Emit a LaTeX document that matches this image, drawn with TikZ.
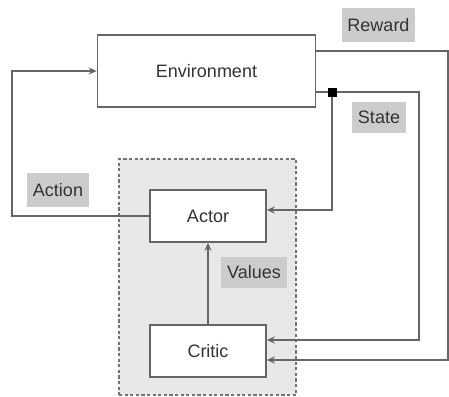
\documentclass[tikz,border=0pt]{standalone}
\usepackage{fontspec}
\setmainfont{Liberation Sans}
\usetikzlibrary{arrows.meta,positioning}

\begin{document}
\begin{tikzpicture}[x=0.5pt, y=-0.5pt, >={Stealth[length=4pt,width=3.5pt]},
  line/.style={draw=black!60, line width=0.8pt},
  block/.style={line, fill=white, minimum width=58pt, minimum height=26pt, text=black!80, font=\small},
  tag/.style={fill=black!20, inner sep=0pt, text=black!80, font=\small}]
\useasboundingbox (0,0) rectangle (449,396);

\node[draw=black!55, dash pattern=on 1.6pt off 1.2pt, line width=0.7pt, fill=black!9, minimum width=88.5pt, minimum height=118pt] (g) at (207.5,277) {};
\node[block, minimum width=109pt, minimum height=36pt] (e) at (206.5,71) {Environment};
\node[block] (a) at (208,216) {Actor};
\node[block] (c) at (208,351) {Critic};

\node[tag, minimum width=36.5pt, minimum height=17pt] (rw) at (378.5,25) {Reward};
\node[tag, minimum width=27pt, minimum height=15.5pt] (st) at (379,117.5) {State};
\node[tag, minimum width=31pt, minimum height=17pt] (ac) at (58,190) {Action};
\node[tag, minimum width=33pt, minimum height=15.5pt] (vl) at (254,272.5) {Values};

\coordinate (r1) at (448,51);
\coordinate (r2) at (448,360);
\coordinate (s1) at (419,92);
\coordinate (s2) at (419,340);
\coordinate (s3) at (332,210);
\coordinate (a1) at (12,216);
\coordinate (a2) at (12,71);

% reward goes back to the critic
\draw[line, ->] (e.east |- r1) -- (r1) -- (r2) -- (c.east |- r2);
% state to both actor and critic
\draw[line, ->] (e.east |- s1) -- (s1) -- (s2) -- (c.east |- s2);
\node[fill=black, inner sep=0pt, minimum size=4.5pt] (sq) at (332,92) {};
\draw[line, ->] (sq) -- (s3) -- (a.east |- s3);
% action
\draw[line, ->] (a.west) -- (a1) -- (a2) -- (e.west);
\draw[line, ->] (c) -- (a);
\end{tikzpicture}
\end{document}
